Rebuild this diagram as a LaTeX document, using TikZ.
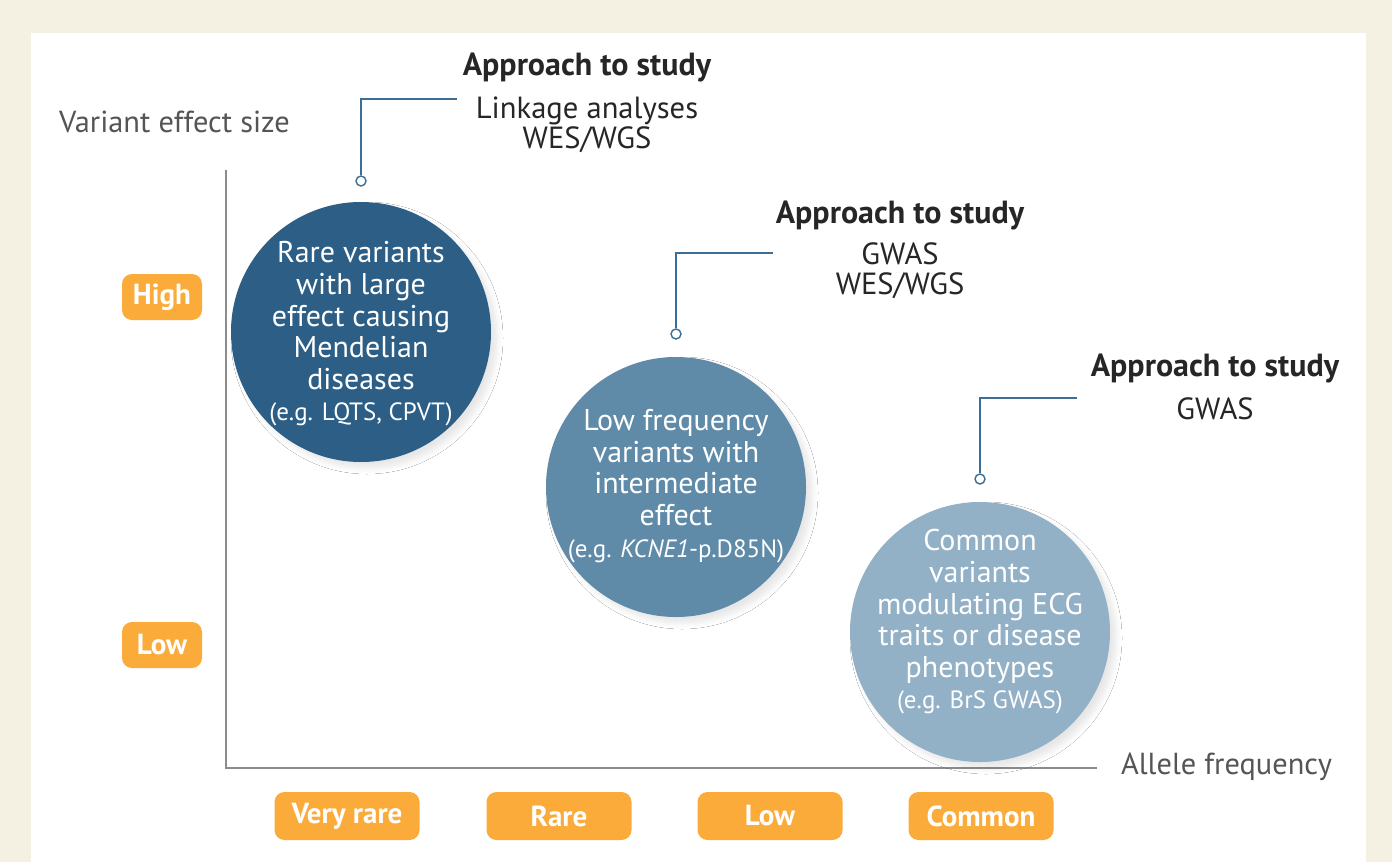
\documentclass[tikz,border=0pt]{standalone}
\usepackage{fontspec}
\setmainfont{PT Sans}
\usetikzlibrary{positioning,shadows.blur}

\definecolor{crema}{HTML}{F4F0E2}
\definecolor{taronja}{HTML}{FBAB3A}
\definecolor{blaufosc}{HTML}{2D5F86}
\definecolor{blaumig}{HTML}{5F8BA9}
\definecolor{blauclar}{HTML}{93B1C6}
\definecolor{linia}{HTML}{3B6F98}
\definecolor{eix}{HTML}{8C8C8C}
\definecolor{gris}{HTML}{555555}

\newcommand{\exemple}{\fontsize{12.5}{14}\selectfont}

\begin{document}
\begin{tikzpicture}[x=0.5pt,y=-0.5pt,
	bola/.style={circle, minimum size=130pt, inner sep=0pt,
		blur shadow={shadow blur steps=6, shadow blur radius=3pt, shadow xshift=3pt, shadow yshift=-3pt, shadow opacity=10}},
	textbola/.style={align=center, text=white, font=\fontsize{15}{15.8}\selectfont},
	etiqueta/.style={fill=taronja, rounded corners=5pt, text=white, inner sep=0pt,
		font=\bfseries\fontsize{14.5}{16}\selectfont},
	punt/.style={circle, draw=linia, fill=white, line width=0.7pt, minimum size=5pt, inner sep=0pt},
	guia/.style={draw=linia, line width=1pt},
	capcal/.style={text=black!85, font=\bfseries\fontsize{16}{18}\selectfont},
	cos/.style={align=center, text=black!85, font=\fontsize{15.3}{14.8}\selectfont, inner sep=0pt},
	eixos/.style={draw=eix, line width=1pt},
	nomeix/.style={text=gris, font=\fontsize{15.2}{17}\selectfont, anchor=west}]

	% Fons
	\fill[crema] (0,0) rectangle (1392,862);
	\fill[white] (31,33) rectangle (1366,862);
	\useasboundingbox (0,0) rectangle (1392,862);

	% Eixos
	\coordinate (O) at (226,768);
	\coordinate (Y) at (226,170);
	\coordinate (X) at (1097,768);
	\draw[eixos] (Y) -- (O) -- (X);
	\node[nomeix] (ylab) at (52,122) {Variant effect size};
	\node[nomeix] (xlab) at (1114,767) {Allele frequency};

	% Etiquetes taronja
	\node[etiqueta, minimum width=40pt, minimum height=23pt] (alt) at (162,297) {High};
	\node[etiqueta, minimum width=40pt, minimum height=23pt] (baix) at (162,645) {Low};
	\foreach \x/\nom/\t in {347/mrara/Very rare, 559/rara/Rare, 770/poca/Low, 981/comu/Common}
		\node[etiqueta, minimum width=72.5pt, minimum height=24pt] (\nom) at (\x,816) {\t};

	% Primera bola
	\node[bola, fill=blaufosc] (b1) at (361,332) {};
	\node[textbola] (t1) at (361,334) {Rare variants\\with large\\effect causing\\Mendelian\\diseases\\
		{\exemple (e.g. LQTS, CPVT)}};

	% Segona bola
	\node[bola, fill=blaumig] (b2) at (676,487) {};
	\node[textbola] (t2) at (676,486) {Low frequency\\variants with\\intermediate\\effect\\
		{\exemple (e.g. \textit{KCNE1}-p.D85N)}};

	% Tercera bola
	\node[bola, fill=blauclar] (b3) at (980,632) {};
	\node[textbola] (t3) at (980,622) {Common\\variants\\modulating ECG\\traits or disease\\phenotypes\\
		{\exemple (e.g. BrS GWAS)}};

	% Enfocaments
	\node[capcal] (h1) at (587,67) {Approach to study};
	\node[cos, below=4pt of h1] (c1) {Linkage analyses\\WES/WGS};
	\node[capcal] (h2) at (900,215) {Approach to study};
	\node[cos, below=3pt of h2] (c2) {GWAS\\WES/WGS};
	\node[capcal] (h3) at (1215,368) {Approach to study};
	\node[cos, below=4pt of h3] (c3) {GWAS};

	% Guies
	\node[punt] (p1) at (361,181) {};
	\node[punt] (p2) at (676,334) {};
	\node[punt] (p3) at (980,479) {};
	\coordinate (f1) at (457,99);
	\coordinate (f2) at (773,253);
	\coordinate (f3) at (1077,398);
	\draw[guia] (p1) |- (f1);
	\draw[guia] (p2) |- (f2);
	\draw[guia] (p3) |- (f3);

\end{tikzpicture}
\end{document}
